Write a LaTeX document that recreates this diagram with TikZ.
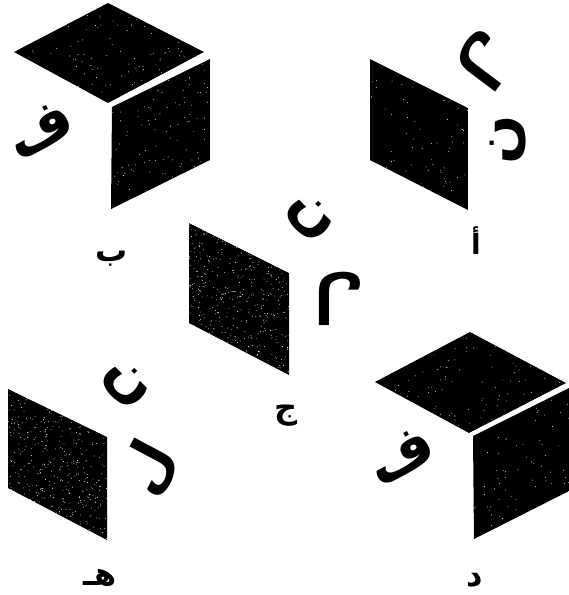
\documentclass[tikz,border=0pt]{standalone}
\usepackage{fontspec}
\TeXXeTstate=1
\newfontfamily\arabicfont[Script=Arabic]{DejaVu Sans}
\newcommand{\speckface}[6]{% path, xmin, ymin, width, height, count
  \begin{scope}
    \clip #1;
    \fill[black] #1;
    \foreach \i in {1,...,#6}{
      \pgfmathsetmacro{\px}{#2+rnd*#4}
      \pgfmathsetmacro{\py}{#3+rnd*#5}
      \fill[white] (\px,\py) circle[radius=0.45pt];
    }
  \end{scope}
}
\tikzset{
  bigletter/.style={inner sep=0pt,font=\arabicfont\bfseries\fontsize{58}{58}\selectfont},
  answerlabel/.style={inner sep=0pt,font=\arabicfont\bfseries\fontsize{32}{32}\selectfont}
}
\begin{document}
\begin{tikzpicture}[x=1pt,y=-1pt]
\useasboundingbox (0,0) rectangle (569,595);
\pgfmathsetseed{4711}
% cube b
\speckface{(14,52) -- (108,3) -- (204,52) -- (108,103) -- cycle}{14}{3}{190}{100}{170}
\speckface{(112,107) -- (210,59) -- (210,160) -- (111,209) -- cycle}{111}{59}{99}{150}{130}
% face a
\speckface{(370,59) -- (468,108) -- (468,210) -- (370,160) -- cycle}{370}{59}{98}{151}{80}
% face c
\speckface{(189,223) -- (289,273) -- (289,375) -- (189,323) -- cycle}{189}{223}{100}{152}{520}
% face e
\speckface{(8,389) -- (107,437) -- (107,540) -- (8,488) -- cycle}{8}{389}{99}{151}{480}
% cube d
\speckface{(375,382) -- (470,332) -- (566,383) -- (469,433) -- cycle}{375}{332}{191}{101}{150}
\speckface{(473,436) -- (569,388) -- (569,491) -- (474,539) -- cycle}{473}{388}{96}{151}{100}
% letters
\node[bigletter,rotate=28] (bfa) at (40,130) {\beginR ف\endR};
\node[bigletter,rotate=28] (dfa) at (401,456) {\beginR ف\endR};
\node[bigletter,rotate=90] (anun) at (508,140) {\beginR ن\endR};
\node[bigletter,rotate=-127] (alam) at (486,60) {\beginR ل\endR};
\node[bigletter,rotate=-45] (cnun) at (310,218) {\beginR ن\endR};
\node[bigletter,rotate=180] (clam) at (339,298) {\beginR ل\endR};
\node[bigletter,rotate=-45] (enun) at (126,385) {\beginR ن\endR};
\node[bigletter,rotate=62] (elam) at (150,468) {\beginR ل\endR};
% labels
\node[answerlabel,font=\arabicfont\bfseries\fontsize{28}{28}\selectfont] (la) at (476,241) {\beginR أ\endR};
\node[answerlabel] (lb) at (112,259) {\beginR ب\endR};
\node[answerlabel] (lc) at (286,416) {\beginR ج\endR};
\node[answerlabel] (ld) at (475,580) {\beginR د\endR};
\node[answerlabel] (le) at (100,578) {\beginR هـ\endR};
\end{tikzpicture}
\end{document}
